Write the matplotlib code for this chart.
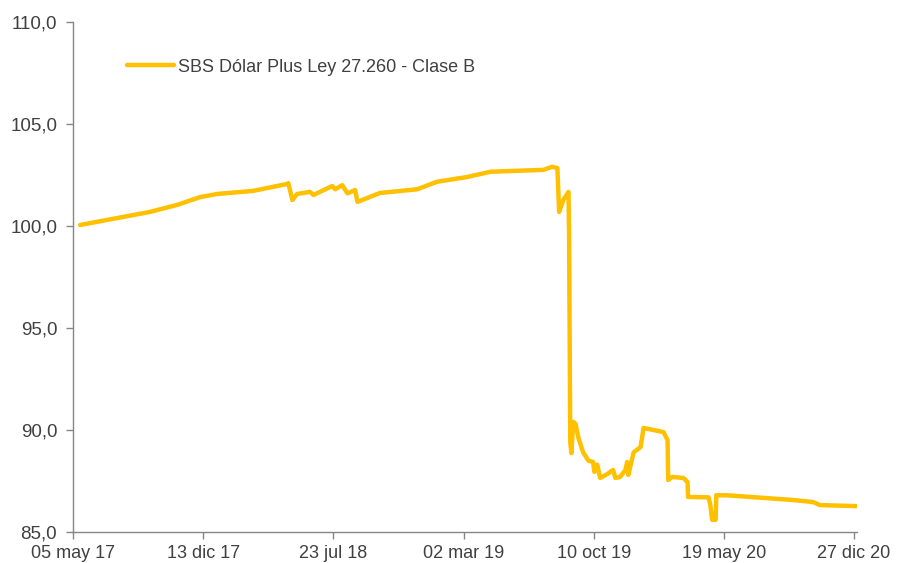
import matplotlib
matplotlib.use('Agg')
import matplotlib.pyplot as plt
import pandas as pd

# valores
fechas = [
    '2017-05-17', '2017-09-13', '2017-10-29', '2017-12-08', '2018-01-06',
    '2018-03-08', '2018-05-05', '2018-05-07', '2018-05-14', '2018-05-22',
    '2018-06-13', '2018-06-19', '2018-07-21', '2018-07-26', '2018-08-07',
    '2018-08-16', '2018-08-29', '2018-09-02', '2018-10-06', '2018-10-11',
    '2018-12-13', '2019-01-16', '2019-03-08', '2019-04-17', '2019-07-16',
    '2019-07-31', '2019-08-09', '2019-08-12', '2019-08-19', '2019-08-28',
    '2019-08-29', '2019-08-31', '2019-09-02', '2019-09-05', '2019-09-09',
    '2019-09-14', '2019-09-22', '2019-10-01', '2019-10-09', '2019-10-11',
    '2019-10-16', '2019-10-21', '2019-11-02', '2019-11-12', '2019-11-16',
    '2019-11-24', '2019-12-03', '2019-12-06', '2019-12-08', '2019-12-17',
    '2019-12-29', '2020-01-03', '2020-01-20', '2020-02-06', '2020-02-13',
    '2020-02-14', '2020-02-21', '2020-03-11', '2020-03-18', '2020-03-19',
    '2020-04-23', '2020-04-26', '2020-04-29', '2020-05-05', '2020-05-06',
    '2020-05-25', '2020-08-01', '2020-09-14', '2020-10-18', '2020-10-30',
    '2021-01-01',
]
valores = [
    100.05, 100.69, 101.03, 101.42, 101.57,
    101.72, 102.06, 102.10, 101.27, 101.57,
    101.67, 101.52, 101.96, 101.80, 102.00,
    101.60, 101.76, 101.18, 101.57, 101.62,
    101.80, 102.17, 102.40, 102.66, 102.75,
    102.90, 102.84, 100.69, 101.27, 101.67,
    99.40, 89.40, 88.87, 90.40, 90.30,
    89.60, 88.90, 88.50, 88.43, 87.95,
    88.30, 87.65, 87.84, 88.04, 87.65,
    87.70, 88.04, 88.43, 87.80, 88.90,
    89.17, 90.10, 90.00, 89.90, 89.50,
    87.55, 87.70, 87.65, 87.45, 86.72,
    86.70, 86.30, 85.60, 85.60, 86.80,
    86.80, 86.66, 86.57, 86.47, 86.32,
    86.27,
]
serie = 'SBS Dólar Plus Ley 27.260 - Clase B'

ticks_x = ['2017-05-05', '2017-12-13', '2018-07-23', '2019-03-02',
           '2019-10-10', '2020-05-19', '2020-12-27']
etiquetas_x = ['05 may 17', '13 dic 17', '23 jul 18', '02 mar 19',
               '10 oct 19', '19 may 20', '27 dic 20']
ticks_y = [85, 90, 95, 100, 105, 110]

plt.rcParams['font.family'] = ['Liberation Sans', 'DejaVu Sans']

fig = plt.figure(figsize=(9.03, 5.63), dpi=100)
ax = fig.add_axes([0.081, 0.055, 0.868, 0.906])

ax.plot(pd.to_datetime(fechas), valores, color='#FFC000', lw=3.2, label=serie,
        solid_joinstyle='round', solid_capstyle='round')

ax.set_xlim(pd.Timestamp('2017-05-05'), pd.Timestamp('2021-01-01'))
ax.set_ylim(85, 110)
ax.set_xticks(pd.to_datetime(ticks_x))
ax.set_xticklabels(etiquetas_x)
ax.set_yticks(ticks_y)
ax.set_yticklabels([f'{v:.1f}'.replace('.', ',') for v in ticks_y])

for lado in ['top', 'right']:
    ax.spines[lado].set_visible(False)
for lado in ['left', 'bottom']:
    ax.spines[lado].set_color('#868686')
    ax.spines[lado].set_linewidth(1)
ax.tick_params(axis='both', colors='#868686', labelcolor='#404040',
               labelsize=13, length=5, width=1, direction='out')
ax.tick_params(axis='x', pad=4.5)
ax.tick_params(axis='y', labelsize=13.5, pad=6.5)

ax.legend(loc='upper left', bbox_to_anchor=(0.048, 0.96), frameon=False,
          fontsize=13, handlelength=2.6, handletextpad=0.25, labelcolor='#404040')

fig.savefig('out.png', dpi=100)
